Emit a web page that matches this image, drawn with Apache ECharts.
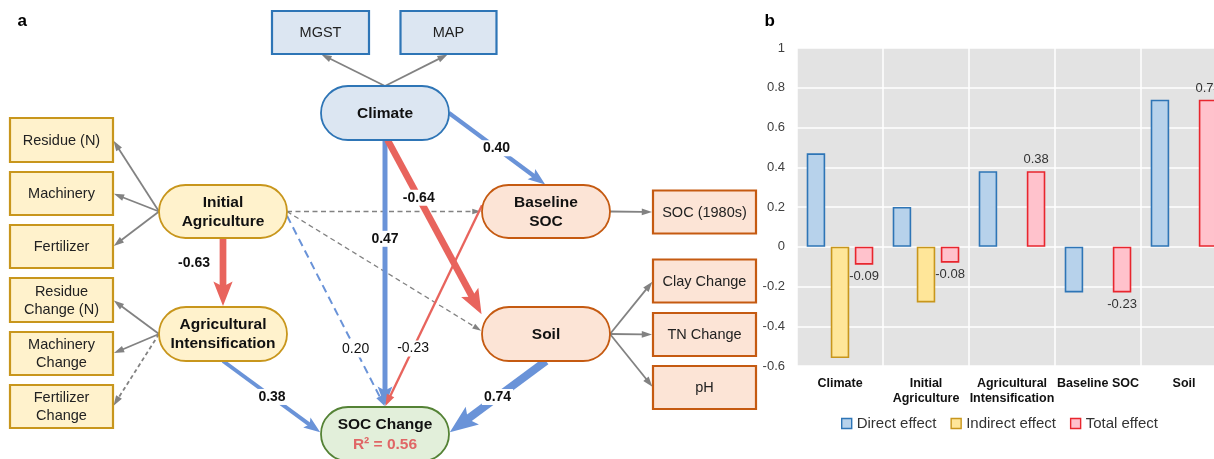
<!DOCTYPE html>
<html>
<head>
<meta charset="utf-8">
<script src="https://cdn.jsdelivr.net/npm/echarts@6/dist/echarts.min.js"></script>
<style>
  html, body { margin: 0; padding: 0; background: #fff; overflow: hidden; }
  #chart { width: 1232px; height: 459px; }
</style>
</head>
<body>
<div id="chart"></div>
<script>
// ---------- Panel b: effects on SOC change ----------
const effectCategories = ['Climate', 'Initial\nAgriculture', 'Agricultural\nIntensification', 'Baseline SOC', 'Soil'];
const effectSeriesNames = ['Direct effect', 'Indirect effect', 'Total effect'];
const directEffect   = [0.47, 0.20, 0.38, -0.23, 0.74];
const indirectEffect = [-0.56, -0.28, null, null, null];
const totalEffect    = [-0.09, -0.08, 0.38, -0.23, 0.74];
const effectTicks    = [-0.6, -0.4, -0.2, 0, 0.2, 0.4, 0.6, 0.8, 1];

// ---------- Panel a: structural equation model ----------
const latentIds    = ['climate', 'initAg', 'agInt', 'baseSoc', 'soil', 'socChange'];
const latentLabels = ['Climate', 'Initial\nAgriculture', 'Agricultural\nIntensification', 'Baseline\nSOC', 'Soil', 'SOC Change'];
const socChangeR2  = 0.56;

const indicatorIds    = ['mgst', 'map', 'residue', 'machinery', 'fertilizer', 'residueChg', 'machineryChg', 'fertilizerChg', 'soc1980', 'clayChg', 'tnChg', 'ph'];
const indicatorLabels = ['MGST', 'MAP', 'Residue (N)', 'Machinery', 'Fertilizer', 'Residue\nChange (N)', 'Machinery\nChange', 'Fertilizer\nChange', 'SOC (1980s)', 'Clay Change', 'TN Change', 'pH'];
const indicatorOf     = ['climate', 'climate', 'initAg', 'initAg', 'initAg', 'agInt', 'agInt', 'agInt', 'baseSoc', 'soil', 'soil', 'soil'];

// structural paths; null = path kept in the model but drawn without a coefficient
const pathFrom = ['initAg',  'initAg', 'climate', 'climate',   'climate', 'initAg', 'initAg',    'baseSoc',   'agInt',     'soil'];
const pathTo   = ['baseSoc', 'soil',   'baseSoc', 'socChange', 'soil',    'agInt',  'socChange', 'socChange', 'socChange', 'socChange'];
const pathCoef = [null,      null,     0.40,      0.47,        -0.64,     -0.63,    0.20,        -0.23,       0.38,        0.74];

// ---------- layout & styling ----------
const FONT = '"Liberation Sans", Arial, Helvetica, sans-serif';
const tones = {
  blue:   { fill: '#dce6f2', stroke: '#2e75b6' },
  gold:   { fill: '#fff2cc', stroke: '#c8961c' },
  orange: { fill: '#fce4d6', stroke: '#c55a11' },
  green:  { fill: '#e2efda', stroke: '#548235' }
};
const nodeLayout = {
  climate:       { x: 385,   y: 113,   w: 128, h: 54, pill: true, tone: 'blue' },
  initAg:        { x: 223,   y: 211.5, w: 128, h: 53, pill: true, tone: 'gold' },
  agInt:         { x: 223,   y: 334,   w: 128, h: 54, pill: true, tone: 'gold' },
  baseSoc:       { x: 546,   y: 211.5, w: 128, h: 53, pill: true, tone: 'orange' },
  soil:          { x: 546,   y: 334,   w: 128, h: 54, pill: true, tone: 'orange' },
  socChange:     { x: 385,   y: 434,   w: 128, h: 54, pill: true, tone: 'green' },
  mgst:          { x: 320.5, y: 32.5,  w: 97,  h: 43, tone: 'blue' },
  map:           { x: 448.5, y: 32.5,  w: 96,  h: 43, tone: 'blue' },
  residue:       { x: 61.5,  y: 140,   w: 103, h: 44, tone: 'gold' },
  machinery:     { x: 61.5,  y: 193.5, w: 103, h: 43, tone: 'gold' },
  fertilizer:    { x: 61.5,  y: 246.5, w: 103, h: 43, tone: 'gold' },
  residueChg:    { x: 61.5,  y: 300,   w: 103, h: 44, tone: 'gold' },
  machineryChg:  { x: 61.5,  y: 353.5, w: 103, h: 43, tone: 'gold' },
  fertilizerChg: { x: 61.5,  y: 406.5, w: 103, h: 43, tone: 'gold' },
  soc1980:       { x: 704.5, y: 212,   w: 103, h: 43, tone: 'orange' },
  clayChg:       { x: 704.5, y: 281,   w: 103, h: 43, tone: 'orange' },
  tnChg:         { x: 704.5, y: 334.5, w: 103, h: 43, tone: 'orange' },
  ph:            { x: 704.5, y: 387.5, w: 103, h: 43, tone: 'orange' }
};
// where each structural path leaves / enters its nodes (fractions of the node box) and where its label sits
const pathStyle = [
  { from: [1, 0.5],    to: [0, 0.5],  dash: true },
  { from: [1, 0.5],    to: [0, 0.45], dash: true },
  { from: [1, 0.5],    to: [0.5, 0],  t: 0.49 },
  { from: [0.5, 1],    to: [0.5, 0],  t: 0.37 },
  { from: [0.52, 1],   to: [0, 0.15], t: 0.33 },
  { from: [0.5, 1],    to: [0.5, 0],  t: 0.36, dx: -29, noBg: true },
  { from: [1, 0.58],   to: [0.5, 0],  t: 0.70, dash: true, plain: true },
  { from: [0, 0.38],   to: [0.5, 0],  t: 0.71, plain: true },
  { from: [0.5, 1],    to: [0, 0.48], t: 0.5 },
  { from: [0.5, 1],    to: [1, 0.48], t: 0.5 }
];
const loadingAnchor = {
  climate: { from: [0.5, 0], to: [0.5, 1] },
  initAg:  { from: [0, 0.5], to: [1, 0.5] },
  agInt:   { from: [0, 0.5], to: [1, 0.5] },
  baseSoc: { from: [1, 0.5], to: [0, 0.5] },
  soil:    { from: [1, 0.5], to: [0, 0.5] }
};
const BLUE = '#6a93d8', RED = '#e8645d', GRAY = '#828282';

function anchor(id, f) {
  const n = nodeLayout[id];
  return [n.x - n.w / 2 + f[0] * n.w, n.y - n.h / 2 + f[1] * n.h];
}

// node list
const nodeList = [];
latentIds.forEach((id, i) => nodeList.push({ id, label: latentLabels[i], latent: true }));
indicatorIds.forEach((id, i) => nodeList.push({ id, label: indicatorLabels[i], latent: false }));

// edge list (drawn in order: indicator arrows, unlabelled paths, then coefficients)
const edgeList = [];
indicatorIds.forEach((id, i) => {
  const a = loadingAnchor[indicatorOf[i]];
  edgeList.push({
    p0: anchor(indicatorOf[i], a.from), p1: anchor(id, a.to),
    width: 1.8, color: GRAY, dash: id === 'fertilizerChg' ? [4, 3] : null
  });
});
pathFrom.forEach((from, i) => {
  const s = pathStyle[i], c = pathCoef[i];
  const e = { p0: anchor(from, s.from), p1: anchor(pathTo[i], s.to) };
  if (c === null) {
    Object.assign(e, { width: 1.3, color: GRAY, dash: [5, 3.5] });
  } else {
    const w = Math.max(2, 2 + (Math.abs(c) - 0.2) * 11);
    Object.assign(e, {
      width: w, color: c < 0 ? RED : BLUE, dash: s.dash ? [8, 5] : null,
      thick: w > 3, coef: c, t: s.t, dx: s.dx || 0, plain: !!s.plain, noBg: !!s.noBg
    });
  }
  edgeList.push(e);
});
const labelList = edgeList.filter(e => e.coef !== undefined).map(e => ({
  x: e.p0[0] + (e.p1[0] - e.p0[0]) * e.t + e.dx,
  y: e.p0[1] + (e.p1[1] - e.p0[1]) * e.t,
  text: e.coef.toFixed(2), plain: e.plain, noBg: e.noBg
}));

function renderEdge(params, api) {
  const e = edgeList[api.value(4)];
  const a = api.coord([api.value(0), api.value(1)]);
  const b0 = api.coord([api.value(2), api.value(3)]);
  const dx = b0[0] - a[0], dy = b0[1] - a[1];
  const len = Math.hypot(dx, dy), ux = dx / len, uy = dy / len, nx = -uy, ny = ux;
  const b = [b0[0] - ux * 1, b0[1] - uy * 1];
  const w = e.width;
  const L = 5 + 2.9 * w, H = 1.2 + 1.25 * w;
  const notch = e.thick ? 0.8 : 1;
  const base = [b[0] - ux * L, b[1] - uy * L];
  const inner = [b[0] - ux * L * notch, b[1] - uy * L * notch];
  const shaftEnd = [b[0] - ux * L * notch * 0.9, b[1] - uy * L * notch * 0.9];
  return {
    type: 'group',
    children: [
      {
        type: 'line',
        shape: { x1: a[0], y1: a[1], x2: shaftEnd[0], y2: shaftEnd[1] },
        style: { stroke: e.color, lineWidth: w, lineDash: e.dash || null, fill: null }
      },
      {
        type: 'polygon',
        shape: { points: [b, [base[0] + nx * H, base[1] + ny * H], inner, [base[0] - nx * H, base[1] - ny * H]] },
        style: { fill: e.color }
      }
    ]
  };
}

function renderNode(params, api) {
  const n = nodeList[api.value(2)];
  const L = nodeLayout[n.id];
  const tone = tones[L.tone];
  const c = api.coord([api.value(0), api.value(1)]);
  const s = api.size([L.w, L.h]);
  const w = Math.abs(s[0]), h = Math.abs(s[1]);
  const rect = {
    type: 'rect',
    shape: { x: c[0] - w / 2, y: c[1] - h / 2, width: w, height: h, r: L.pill ? h / 2 : 0 },
    style: { fill: tone.fill, stroke: tone.stroke, lineWidth: L.pill ? 1.8 : 2.2 }
  };
  let textStyle;
  if (n.id === 'socChange') {
    textStyle = {
      text: '{a|' + n.label + '}\n{b|R² = ' + socChangeR2.toFixed(2) + '}',
      rich: {
        a: { fontSize: 15.5, fontWeight: 'bold', fontFamily: FONT, fill: '#111', lineHeight: 20, align: 'center' },
        b: { fontSize: 15.5, fontWeight: 'bold', fontFamily: FONT, fill: '#e06666', lineHeight: 20, align: 'center' }
      }
    };
  } else if (n.latent) {
    textStyle = { text: n.label, fontSize: 15.5, fontWeight: 'bold', fontFamily: FONT, fill: '#111', lineHeight: 19 };
  } else {
    textStyle = { text: n.label, fontSize: 14.5, fontFamily: FONT, fill: '#222', lineHeight: 18 };
  }
  Object.assign(textStyle, { x: c[0], y: c[1] + 0.5, align: 'center', verticalAlign: 'middle' });
  return { type: 'group', children: [rect, { type: 'text', style: textStyle }] };
}

function renderLabel(params, api) {
  const l = labelList[api.value(2)];
  const c = api.coord([api.value(0), api.value(1)]);
  return {
    type: 'text',
    style: {
      x: c[0], y: c[1], text: l.text, align: 'center', verticalAlign: 'middle',
      fontSize: 14, fontWeight: l.plain ? 'normal' : 'bold', fontFamily: FONT, fill: '#111',
      backgroundColor: l.noBg ? null : '#fff', padding: [1, 2]
    }
  };
}

// ---------- bar series ----------
const barColors = [
  { color: '#b7d2eb', borderColor: '#2e75b6' },
  { color: '#ffe699', borderColor: '#c8961c' },
  { color: '#ffc2cc', borderColor: '#e8262e' }
];
const barData = [directEffect, indirectEffect, totalEffect];
const barSeries = effectSeriesNames.map((name, k) => ({
  type: 'bar', name, xAxisIndex: 0, yAxisIndex: 0,
  barWidth: 18.5, barGap: '30%',
  itemStyle: { color: barColors[k].color, borderColor: barColors[k].borderColor, borderWidth: 1.6 },
  data: barData[k].map(v => v === null ? '-' : (k === 2
    ? { value: v, label: { show: true, position: v < 0 ? 'bottom' : 'top' } }
    : v)),
  label: {
    show: false, fontSize: 13, fontFamily: FONT, color: '#333', distance: 5,
    formatter: p => Number(p.value).toFixed(2)
  }
}));

const chart = echarts.init(document.getElementById('chart'), null, { renderer: 'canvas' });
chart.setOption({
  animation: false,
  backgroundColor: '#fff',
  textStyle: { fontFamily: FONT },
  title: [
    { text: 'a', left: 12.5, top: 8, padding: 5, textStyle: { fontSize: 17, fontWeight: 'bold', color: '#000', fontFamily: FONT } },
    { text: 'b', left: 759.5, top: 8, padding: 5, textStyle: { fontSize: 17, fontWeight: 'bold', color: '#000', fontFamily: FONT } }
  ],
  grid: [
    { left: 797, top: 48, width: 430, height: 318, show: true, backgroundColor: '#e3e3e3', borderWidth: 0 },
    { left: 0, top: 0, width: 790, height: 459, show: false }
  ],
  legend: {
    left: 836, top: 411, itemWidth: 10, itemHeight: 10, itemGap: 14, icon: 'rect',
    textStyle: { fontSize: 15, color: '#333', fontFamily: FONT },
    data: effectSeriesNames.map((name, k) => ({
      name, itemStyle: { color: barColors[k].color, borderColor: barColors[k].borderColor, borderWidth: 1.4 }
    }))
  },
  xAxis: [
    {
      type: 'category', gridIndex: 0, data: effectCategories,
      axisLine: { show: false }, axisTick: { show: false },
      splitLine: { show: true, lineStyle: { color: '#ffffff', width: 1.5 } },
      axisLabel: { interval: 0, fontSize: 12.5, fontWeight: 'bold', color: '#111', margin: 10, lineHeight: 15, fontFamily: FONT }
    },
    { type: 'value', gridIndex: 1, min: 0, max: 790, show: false }
  ],
  yAxis: [
    {
      type: 'value', gridIndex: 0,
      min: effectTicks[0], max: effectTicks[effectTicks.length - 1], interval: 0.2,
      axisLine: { show: false }, axisTick: { show: false },
      splitLine: { lineStyle: { color: '#ffffff', width: 1.5 } },
      axisLabel: { fontSize: 13, color: '#404040', margin: 12, fontFamily: FONT, formatter: v => String(+v.toFixed(1)) }
    },
    { type: 'value', gridIndex: 1, min: 0, max: 459, inverse: true, show: false }
  ],
  series: [
    ...barSeries,
    {
      type: 'custom', name: 'paths', coordinateSystem: 'cartesian2d', xAxisIndex: 1, yAxisIndex: 1,
      clip: false, z: 2, silent: true,
      encode: { x: [0, 2], y: [1, 3] },
      data: edgeList.map((e, i) => [e.p0[0], e.p0[1], e.p1[0], e.p1[1], i]),
      renderItem: renderEdge
    },
    {
      type: 'custom', name: 'nodes', coordinateSystem: 'cartesian2d', xAxisIndex: 1, yAxisIndex: 1,
      clip: false, z: 3, silent: true,
      encode: { x: 0, y: 1 },
      data: nodeList.map((n, i) => [nodeLayout[n.id].x, nodeLayout[n.id].y, i]),
      renderItem: renderNode
    },
    {
      type: 'custom', name: 'coefficients', coordinateSystem: 'cartesian2d', xAxisIndex: 1, yAxisIndex: 1,
      clip: false, z: 4, silent: true,
      encode: { x: 0, y: 1 },
      data: labelList.map((l, i) => [l.x, l.y, i]),
      renderItem: renderLabel
    }
  ]
});
</script>
</body>
</html>
